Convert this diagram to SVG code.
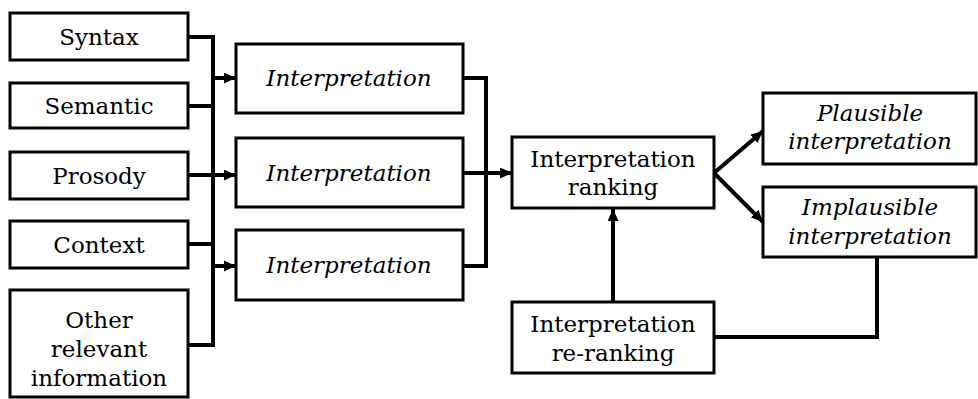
<svg xmlns="http://www.w3.org/2000/svg" width="978" height="399" viewBox="0 0 978 399">
<defs>
<marker id="ah" markerUnits="userSpaceOnUse" markerWidth="13" markerHeight="11" refX="12" refY="5.5" orient="auto">
<path d="M0,0 L12,5.5 L0,11 z" fill="#000"/>
</marker>
<style>
.box{fill:#fff;stroke:#000;stroke-width:3}
.t{font-family:"DejaVu Serif","Liberation Serif",serif;font-size:23px;fill:#000;text-anchor:middle}
.i{font-style:italic}
.c{fill:none;stroke:#000;stroke-width:4}
</style>
</defs>
<rect width="978" height="399" fill="#fff"/>
<g id="connectors">
<polyline class="c" points="188,37 213,37 213,345 188,345"/>
<line class="c" x1="188" y1="106" x2="213" y2="106"/>
<line class="c" x1="188" y1="175" x2="213" y2="175"/>
<line class="c" x1="188" y1="244" x2="213" y2="244"/>
<line class="c" x1="213" y1="78" x2="236" y2="78" marker-end="url(#ah)"/>
<line class="c" x1="213" y1="175" x2="236" y2="175" marker-end="url(#ah)"/>
<line class="c" x1="213" y1="266" x2="236" y2="266" marker-end="url(#ah)"/>
<polyline class="c" points="463,78 486,78 486,266 463,266"/>
<line class="c" x1="463" y1="173" x2="512" y2="173" marker-end="url(#ah)"/>
<line class="c" x1="714" y1="173" x2="763" y2="131" marker-end="url(#ah)"/>
<line class="c" x1="714" y1="173" x2="763" y2="222" marker-end="url(#ah)"/>
<line class="c" x1="613" y1="302" x2="613" y2="209" marker-end="url(#ah)"/>
<polyline class="c" points="714,337 877,337 877,257"/>
</g>
<g id="syntax"><rect class="box" x="10" y="13" width="178" height="47"/><text class="t" x="99" y="45">Syntax</text></g>
<g id="semantic"><rect class="box" x="10" y="83" width="178" height="45"/><text class="t" x="99" y="114">Semantic</text></g>
<g id="prosody"><rect class="box" x="10" y="152" width="178" height="47"/><text class="t" x="99" y="184">Prosody</text></g>
<g id="context"><rect class="box" x="10" y="221" width="178" height="47"/><text class="t" x="99" y="253">Context</text></g>
<g id="other"><rect class="box" x="10" y="290" width="178" height="107"/><text class="t" x="99" y="328">Other</text><text class="t" x="99" y="357">relevant</text><text class="t" x="99" y="386">information</text></g>
<g id="interp1"><rect class="box" x="236" y="44" width="227" height="69"/><text class="t i" x="349" y="86">Interpretation</text></g>
<g id="interp2"><rect class="box" x="236" y="138" width="227" height="69"/><text class="t i" x="349" y="181">Interpretation</text></g>
<g id="interp3"><rect class="box" x="236" y="230" width="227" height="70"/><text class="t i" x="349" y="273">Interpretation</text></g>
<g id="ranking"><rect class="box" x="512" y="137" width="202" height="71"/><text class="t" x="613" y="167">Interpretation</text><text class="t" x="613" y="195">ranking</text></g>
<g id="reranking"><rect class="box" x="512" y="302" width="202" height="71"/><text class="t" x="613" y="332">Interpretation</text><text class="t" x="613" y="361">re-ranking</text></g>
<g id="plausible"><rect class="box" x="763" y="93" width="213" height="71"/><text class="t i" x="870" y="121">Plausible</text><text class="t i" x="870" y="149">interpretation</text></g>
<g id="implausible"><rect class="box" x="763" y="187" width="213" height="70"/><text class="t i" x="870" y="215">Implausible</text><text class="t i" x="870" y="244">interpretation</text></g>
</svg>
